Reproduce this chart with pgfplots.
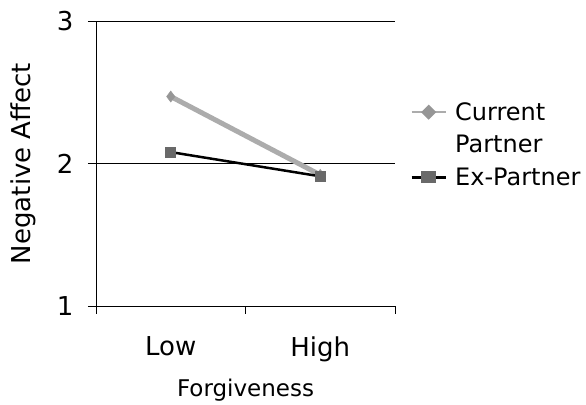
\documentclass[border=0pt]{standalone}
\usepackage{pgfplots}
\pgfplotsset{compat=1.18}
\usepackage{fontspec}
\setmainfont{DejaVu Sans}
\definecolor{curline}{RGB}{172,172,172}
\definecolor{curmark}{RGB}{150,150,150}
\definecolor{exmark}{RGB}{105,105,105}
\begin{document}
\begin{tikzpicture}[x=1pt,y=1pt]
\begin{axis}[
  at={(0,0)}, anchor=south west,
  scale only axis, width=299pt, height=285pt,
  xmin=0, xmax=2, ymin=1, ymax=3,
  axis x line=bottom, axis y line=left,
  axis line style={-, black, line width=0.8pt},
  xtick={0,1,2}, xticklabels={},
  extra x ticks={0.5,1.5}, extra x tick labels={Low,High},
  extra x tick style={major tick length=0pt, xticklabel style={yshift=-27pt}},
  ytick={1,2,3},
  ymajorgrids, grid style={black, line width=0.8pt},
  tick align=outside, major tick length=8pt,
  tick style={black, line width=0.8pt},
  ticklabel style={font=\fontsize{26}{30}\selectfont},
  yticklabel style={xshift=-11pt},
  /pgf/number format/assume math mode=true,
  xlabel={Forgiveness}, ylabel={Negative Affect},
  xlabel style={font=\fontsize{23}{28}\selectfont, yshift=-2pt},
  ylabel style={font=\fontsize{26}{30}\selectfont, yshift=14pt},
  clip=false,
  legend style={at={(1.04,0.722)}, anchor=north west, draw=none, fill=none,
    font=\fontsize{24}{33}\selectfont, nodes={inner sep=0pt}, row sep=13pt, column sep=8pt},
  legend cell align=left,
]
\addplot[color=curline, line width=5pt, mark=diamond*, mark size=5.5pt,
  mark options={fill=curmark, draw=curmark, line width=0.5pt},
  legend image code/.code={\draw[curline, line width=1.5pt] (0pt,0pt) -- (34pt,0pt);
    \fill[curmark] (17pt,0pt) ++(-4pt,0) -- ++(4pt,4pt) -- ++(4pt,-4pt) -- ++(-4pt,-4pt) -- cycle;}]
  coordinates {(0.5,2.47) (1.5,1.92)};
\addlegendentry{\rule[-6pt]{0pt}{24pt}Current}
\addlegendimage{empty legend}
\addlegendentry{\rule[-6pt]{0pt}{24pt}Partner}
\addplot[color=black, line width=2.5pt, mark=square*, mark size=5pt,
  mark options={fill=exmark, draw=exmark, line width=0.5pt},
  legend image code/.code={\draw[black, line width=3pt] (0pt,-9pt) -- (34pt,-9pt);
    \fill[exmark] (11pt,-14pt) rectangle (23pt,-4pt);}]
  coordinates {(0.5,2.08) (1.5,1.91)};
\addlegendentry[yshift=-9pt]{\rule[-6pt]{0pt}{24pt}Ex-Partner}
\end{axis}
\path[use as bounding box] (-96pt,-97pt) rectangle (490pt,306pt);
\end{tikzpicture}
\end{document}
